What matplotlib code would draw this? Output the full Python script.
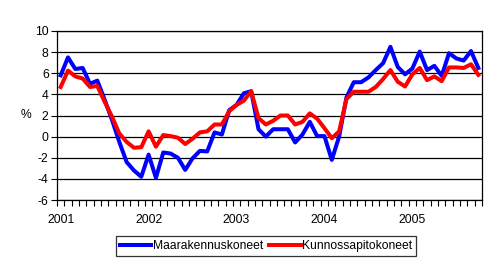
import matplotlib
matplotlib.use("Agg")
import matplotlib.pyplot as plt

# monthly series, Jan 2001 .. Oct 2005 (%)
years = ["2001", "2002", "2003", "2004", "2005"]
maarakennus = [5.8, 7.5, 6.4, 6.5, 5.0, 5.3, 3.5, 1.6, -0.5, -2.4, -3.2, -3.8,
               -1.7, -3.9, -1.5, -1.6, -2.0, -3.15, -2.05, -1.35, -1.4, 0.4, 0.2, 2.5,
               3.0, 4.1, 4.3, 0.7, 0.0, 0.7, 0.7, 0.7, -0.55, 0.2, 1.4, 0.05,
               0.05, -2.2, 0.0, 3.7, 5.15, 5.15, 5.6, 6.3, 6.95, 8.5, 6.6, 5.9,
               6.45, 8.05, 6.3, 6.7, 5.75, 7.9, 7.4, 7.2, 8.1, 6.5]
kunnossapito = [4.7, 6.25, 5.7, 5.5, 4.7, 4.8, 3.3, 1.9, 0.3, -0.5, -1.05, -1.0,
                0.5, -0.95, 0.15, 0.05, -0.1, -0.7, -0.2, 0.4, 0.5, 1.15, 1.15, 2.4,
                3.0, 3.4, 4.3, 1.75, 1.15, 1.5, 2.0, 2.0, 1.15, 1.4, 2.2, 1.7,
                0.8, -0.15, 0.5, 3.55, 4.25, 4.25, 4.25, 4.7, 5.45, 6.3, 5.2, 4.75,
                5.9, 6.5, 5.35, 5.7, 5.25, 6.55, 6.55, 6.5, 6.85, 5.85]
labels = ["Maarakennuskoneet", "Kunnossapitokoneet"]

plt.rcParams['font.family'] = ['Liberation Sans', 'DejaVu Sans']
plt.rcParams['axes.unicode_minus'] = False
fs = 8.7

fig = plt.figure(figsize=(4.94, 2.66), dpi=100)
ax = fig.add_axes([0.1154, 0.248, 0.8603, 0.6355])

n = len(maarakennus)
x = list(range(n))
ax.plot(x, maarakennus, color='#0000ff', lw=2.9, label=labels[0], zorder=3)
ax.plot(x, kunnossapito, color='#ff0000', lw=2.9, label=labels[1], zorder=4)

ax.set_xlim(-0.5, n - 0.5)
ax.set_ylim(-6, 10)
ax.set_yticks(range(-6, 11, 2))
ax.yaxis.grid(True, color='black', lw=0.9)
ax.set_axisbelow(True)
ax.tick_params(axis='y', labelsize=fs, length=4, width=0.8, pad=2)

# month boundaries as ticks, year labels on January
ax.set_xticks([k - 0.5 for k in range(n + 1)])
ax.set_xticklabels([])
ax.set_xticks([12 * i for i in range(len(years))], minor=True)
ax.set_xticklabels(years, minor=True)
ax.tick_params(axis='x', which='major', length=4, width=0.8, direction='out')
ax.tick_params(axis='x', which='minor', length=0, labelsize=fs, pad=10)

for s in ax.spines.values():
    s.set_linewidth(0.9)

fig.text(26 / 494, 1 - 115 / 266, '%', fontsize=fs, ha='center', va='center')

leg = fig.legend(loc='center', bbox_to_anchor=(266 / 494, 1 - 246 / 266), ncol=2,
                 fontsize=fs, frameon=True, fancybox=False, edgecolor='black',
                 handlelength=2.6, handletextpad=0.15, columnspacing=0.5,
                 borderpad=0.3, borderaxespad=0)
leg.get_frame().set_linewidth(0.9)

fig.savefig('out.png', dpi=100)
